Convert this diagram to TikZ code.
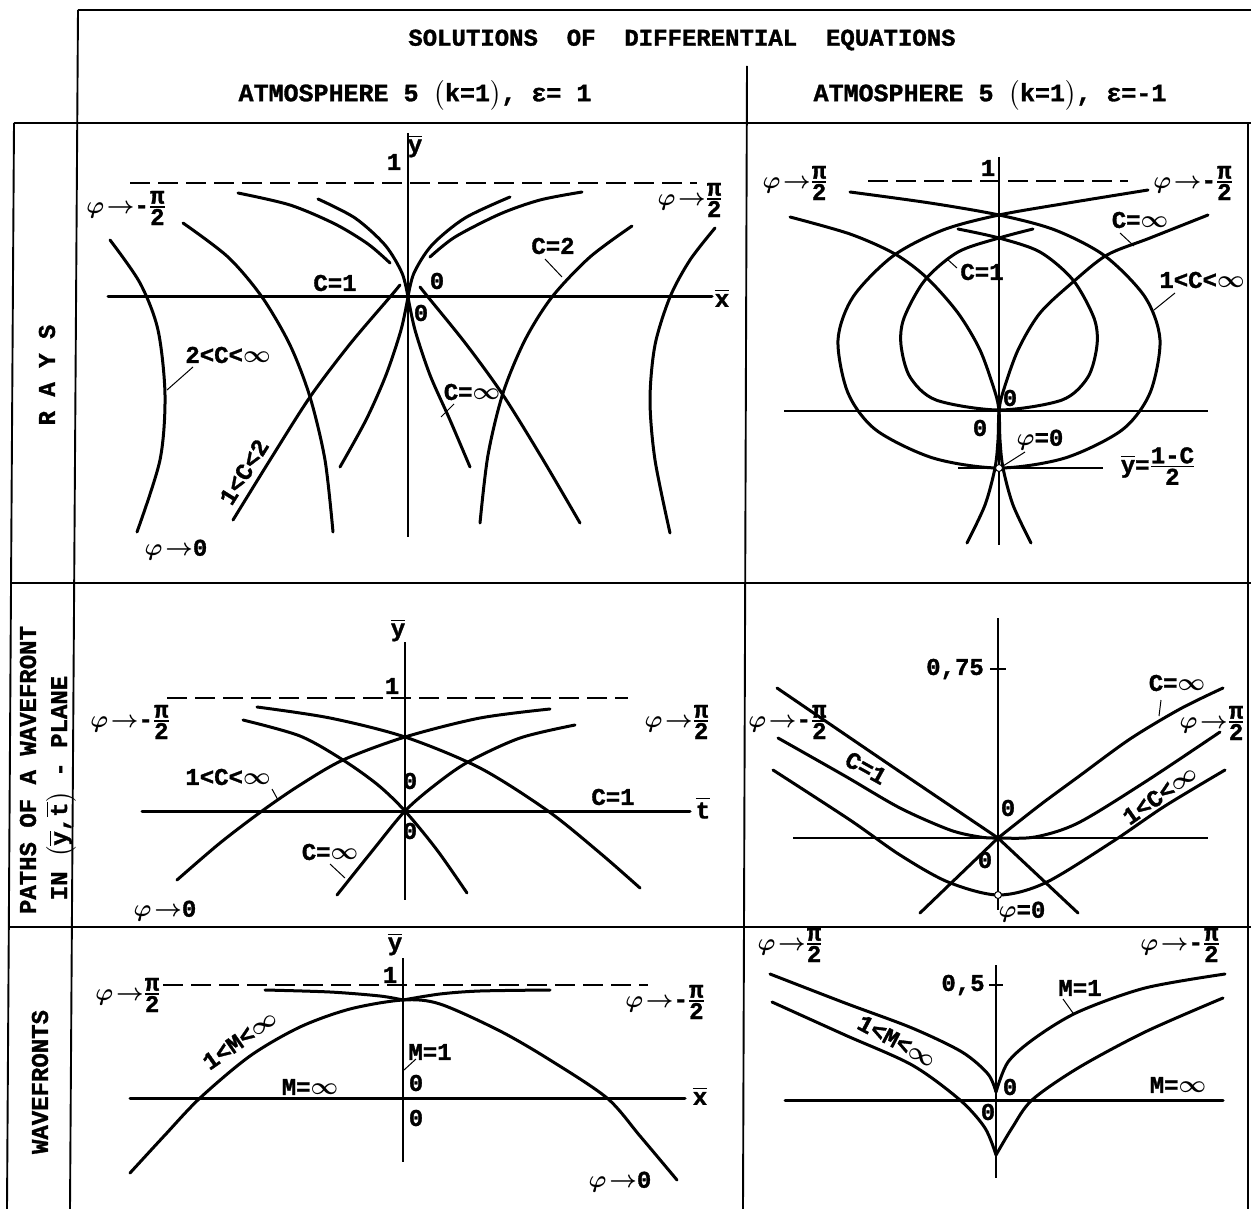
\RequirePackage{fix-cm}
\documentclass[tikz,border=0pt]{standalone}
\usepackage{amsmath}
\usepackage{fontspec}
\setmainfont{Liberation Mono}[BoldFont={Liberation Mono Bold}, BoldFeatures={FakeBold=1.3}]
\newcommand\fr[2]{\ensuremath{\genfrac{}{}{1.3pt}{}{\hbox{#1}}{\hbox{#2}}}}
\newcommand\ob[1]{\ensuremath{\overline{\hbox{#1}}}}
\newcommand\phto{\ensuremath{\boldsymbol{\varphi}\mkern-3mu\boldsymbol{\rightarrow}}}
\newcommand\phv{\ensuremath{\boldsymbol{\varphi}}}
\newcommand\infy{\ensuremath{\boldsymbol{\infty}}}
\tikzset{
 thk/.style={line width=3pt, line cap=round, line join=round},
 ax/.style={line width=1.2pt},
 frm/.style={line width=1.9pt},
 dsh/.style={line width=1.2pt, dash pattern=on 20pt off 8pt},
 lbl/.style={font=\fontsize{24}{26}\selectfont\bfseries, inner sep=0pt},
 ldr/.style={line width=1pt},
 crc/.style={line width=1pt, fill=white},
}
\begin{document}
\begin{tikzpicture}[x=1pt,y=-1pt]
\useasboundingbox (0,0) rectangle (1251,1209);
\fill[white] (0,0) rectangle (1251,1209);
% ---------- frame ----------
\draw[frm] (78,10) -- (1251,10);
\draw[frm] (78,10) -- (70,1209);
\draw[frm] (14,123) -- (1251,123);
\draw[frm] (14,123) -- (7,1209);
\draw[frm] (747,66) -- (743,1209);
\draw[frm] (1248,123) -- (1248,1209);
\draw[frm] (10,583) -- (1251,583);
\draw[frm] (8,927) -- (1251,927);
% ---------- header ----------
\node[lbl] (title) at (682,40) {SOLUTIONS\ \ OF\ \ DIFFERENTIAL\ \ EQUATIONS};
\node[lbl,font=\fontsize{25}{27}\selectfont\bfseries] (sub1) at (415,95) {ATMOSPHERE 5 $\big($k=1$\big)$, ε= 1};
\node[lbl,font=\fontsize{25}{27}\selectfont\bfseries] (sub2) at (990,95) {ATMOSPHERE 5 $\big($k=1$\big)$, ε=-1};
% ---------- row labels ----------
\node[lbl,rotate=90] (rays) at (47,375) {R A Y S};
\node[lbl,rotate=90] (paths1) at (28,770) {PATHS OF A WAVEFRONT};
\node[lbl,rotate=90] (paths2) at (61,788) {IN $\big($\ob{y},\ob{t}$\big)$ - PLANE};
\node[lbl,rotate=90] (wfr) at (40,1082) {WAVEFRONTS};
% ================= panel 1 : rays, eps=1 =================
\draw[ax] (408,133) -- (408,537);
\draw[dsh] (130,183) -- (697,183);
\draw[thk] (108,297) -- (712,297);
\draw[thk] plot[smooth] coordinates {(110,240) (140,283) (158,330) (165,395) (160,460) (137,532)};
\draw[thk] plot[smooth] coordinates {(715,228) (690,260) (670,297) (655,345) (650,400) (655,460) (670,533)};
\draw[thk] plot[smooth] coordinates {(183,223) (228,257) (262,297) (290,345) (310,397) (325,460) (333,532)};
\draw[thk] plot[smooth] coordinates {(632,226) (590,257) (552,297) (525,340) (503,393) (488,455) (480,523)};
\draw[thk] plot[smooth] coordinates {(233,520) (270,460) (310,397) (350,344) (390,297) (400,285)};
\draw[thk] plot[smooth] coordinates {(420,287) (428,297) (466,344) (503,395) (542,458) (580,523)};
\draw[thk] plot[smooth] coordinates {(408,297) (401,330) (386,375) (366,420) (340,467)};
\draw[thk] plot[smooth] coordinates {(408,297) (415,330) (430,375) (450,420) (470,467)};
\draw[thk] plot[smooth] coordinates {(318,199) (355,218) (385,245) (402,273) (408,297)};
\draw[thk] plot[smooth] coordinates {(408,297) (414,273) (432,245) (465,218) (510,197)};
\draw[thk] plot[smooth] coordinates {(238,193) (290,205) (335,224) (368,244) (390,263)};
\draw[thk] plot[smooth] coordinates {(430,257) (455,237) (500,214) (540,200) (582,192)};
\node[lbl] (p1y) at (415,146) {\ob{y}};
\node[lbl] (p1one) at (394,162) {1};
\node[lbl] (p1o1) at (437,281) {0};
\node[lbl] (p1o2) at (421,313) {0};
\node[lbl] (p1x) at (722,298) {\ob{x}};
\node[lbl] (p1c1) at (335,283) {C=1};
\node[lbl] (p1c2) at (553,246) {C=2};
\node[lbl] (p1cinf) at (472,392) {C=\infy};
\node[lbl] (p1c2inf) at (228,355) {2<C<\infy};
\node[lbl,rotate=58] (p1c12) at (244,472) {1<C<2};
\node[lbl] (p1phl) at (126,208) {\phto-\fr{π}{2}};
\node[lbl] (p1phr) at (690,200) {\phto\fr{π}{2}};
\node[lbl] (p1ph0) at (176,550) {\phto0};
\draw[ldr] (545,259) -- (562,277);
\draw[ldr] (454,404) -- (441,417);
\draw[ldr] (193,367) -- (167,390);
% ================= panel 2 : rays, eps=-1 =================
\draw[ax] (999,157) -- (999,545);
\draw[ax] (784,411) -- (1208,411);
\draw[dsh] (868,181) -- (1128,181);
\draw[ax] (958,468) -- (1103,468);
\draw[thk] plot[smooth] coordinates {(850,192) (930,203) (999,215) (1055,230) (1105,256) (1145,297) (1160,340) (1150,393) (1122,430) (1065,458) (999,468) (933,458) (876,430) (848,393) (838,340) (853,297) (893,256) (943,230) (999,215) (1068,203) (1148,190)};
\draw[thk] plot[smooth] coordinates {(958,229) (999,238) (1040,252) (1073,280) (1094,318) (1097,345) (1088,377) (1062,400) (999,410) (936,400) (910,377) (901,345) (904,318) (925,280) (958,252) (999,238) (1033,229)};
\draw[thk] plot[smooth] coordinates {(790,217) (850,234) (895,254) (927,278) (958,313) (980,350) (995,392) (999,411) (1000,440) (1003,468) (1013,505) (1031,543)};
\draw[thk] plot[smooth] coordinates {(1208,215) (1150,238) (1107,255) (1073,282) (1040,313) (1018,350) (1003,392) (999,411) (998,440) (995,468) (985,505) (967,543)};
\draw[crc] (999,468) circle (3.5);
\node[lbl] (p2one) at (988,168) {1};
\node[lbl] (p2o1) at (980,428) {0};
\node[lbl] (p2o2) at (1010,398) {0};
\node[lbl] (p2ph0) at (1040,440) {\phv=0};
\draw[ldr] (1025,452) -- (1003,466);
\node[lbl] (p2ybar) at (1158,466) {\ob{y}=\fr{1-C}{2}};
\node[lbl] (p2phl) at (795,183) {\phto\fr{π}{2}};
\node[lbl] (p2phr) at (1193,183) {\phto-\fr{π}{2}};
\node[lbl] (p2cinf) at (1140,220) {C=\infy};
\draw[ldr] (1120,233) -- (1134,246);
\node[lbl] (p2c1) at (982,272) {C=1};
\draw[ldr] (947,259) -- (957,268);
\node[lbl] (p2c1inf) at (1202,280) {1<C<\infy};
\draw[ldr] (1175,293) -- (1154,310);
% ================= panel 3 : paths, eps=1 =================
\draw[ax] (405,642) -- (405,900);
\draw[dsh] (167,698) -- (628,698);
\draw[thk] (142,811) -- (690,811);
\draw[thk] plot[smooth] coordinates {(257,707) (330,718) (405,737) (480,768) (548,811) (600,853) (640,888)};
\draw[thk] plot[smooth] coordinates {(177,880) (220,843) (262,811) (300,785) (343,760) (405,737) (480,718) (550,709)};
\draw[thk] plot[smooth] coordinates {(243,720) (300,736) (343,760) (378,785) (405,811) (437,850) (467,893)};
\draw[thk] plot[smooth] coordinates {(337,895) (373,850) (405,811) (435,785) (468,762) (520,738) (575,725)};
\node[lbl] (p3y) at (398,630) {\ob{y}};
\node[lbl] (p3one) at (392,686) {1};
\node[lbl] (p3o1) at (410,781) {0};
\node[lbl] (p3o2) at (410,831) {0};
\node[lbl] (p3t) at (703,808) {\ob{t}};
\node[lbl] (p3c1) at (613,797) {C=1};
\node[lbl] (p3c1inf) at (228,777) {1<C<\infy};
\draw[ldr] (272,789) -- (278,800);
\node[lbl] (p3cinf) at (330,852) {C=\infy};
\draw[ldr] (330,864) -- (345,878);
\node[lbl] (p3phl) at (130,722) {\phto-\fr{π}{2}};
\node[lbl] (p3phr) at (677,722) {\phto\fr{π}{2}};
\node[lbl] (p3ph0) at (165,911) {\phto0};
% ================= panel 4 : paths, eps=-1 =================
\draw[ax] (998,618) -- (998,910);
\draw[ax] (990,669) -- (1006,669);
\draw[ax] (793,838) -- (1208,838);
\draw[thk] plot[smooth] coordinates {(777,688) (887,763) (998,838)};
\draw[thk] (998,838) -- (1078,913);
\draw[thk] (920,913) -- (998,838);
\draw[thk] plot[smooth] coordinates {(998,838) (1040,805) (1078,777) (1130,739) (1180,709) (1223,688)};
\draw[thk] plot[smooth] coordinates {(778,738) (845,776) (900,808) (950,830) (980,837) (998,838) (1035,837) (1078,823) (1145,782) (1220,732)};
\draw[thk] plot[smooth] coordinates {(773,770) (850,820) (900,855) (948,882) (998,895) (1045,883) (1112,842) (1165,806) (1225,770)};
\draw[crc] (998,895) circle (3.5);
\node[lbl] (p4tick) at (955,669) {0,75};
\node[lbl] (p4o1) at (1008,808) {0};
\node[lbl] (p4o2) at (985,860) {0};
\node[lbl] (p4ph0) at (1022,912) {\phv=0};
\node[lbl] (p4cinf) at (1177,683) {C=\infy};
\draw[ldr] (1161,700) -- (1159,716);
\node[lbl] (p4phr) at (1212,723) {\phto\fr{π}{2}};
\node[lbl] (p4phl) at (788,722) {\phto-\fr{π}{2}};
\node[lbl,rotate=-29] (p4c1) at (866,768) {C=1};
\node[lbl,rotate=35] (p4c1inf) at (1160,795) {1<C<\infy};
% ================= panel 5 : wavefronts, eps=1 =================
\draw[line width=1.7pt] (403,958) -- (403,1162);
\draw[dsh] (163,985) -- (648,985);
\draw[thk] (130,1098) -- (685,1098);
\draw[thk] plot[smooth] coordinates {(265,990) (330,992) (380,996) (403,1000)};
\draw[thk] plot[smooth] coordinates {(403,1000) (440,994) (480,991) (550,990)};
\draw[thk] plot[smooth] coordinates {(130,1173) (165,1135) (200,1098) (250,1056) (300,1027) (350,1009) (403,1000) (440,1004) (500,1031) (550,1060) (607,1098) (640,1136) (677,1180)};
\node[lbl] (p5y) at (395,944) {\ob{y}};
\node[lbl] (p5one) at (390,975) {1};
\node[lbl] (p5o1) at (416,1083) {0};
\node[lbl] (p5o2) at (416,1118) {0};
\node[lbl] (p5x) at (700,1096) {\ob{x}};
\node[lbl] (p5minf) at (310,1087) {M=\infy};
\node[lbl] (p5m1) at (430,1052) {M=1};
\draw[ldr] (404,1070) -- (416,1059);
\node[lbl,rotate=35] (p5m1inf) at (240,1040) {1<M<\infy};
\node[lbl] (p5phl) at (128,995) {\phto\fr{π}{2}};
\node[lbl] (p5phr) at (665,1002) {\phto-\fr{π}{2}};
\node[lbl] (p5ph0) at (620,1182) {\phto0};
% ================= panel 6 : wavefronts, eps=-1 =================
\draw[ax] (996,965) -- (996,1178);
\draw[ax] (989,985) -- (1003,985);
\draw[thk] (785,1100) -- (1223,1100);
\draw[thk] plot[smooth] coordinates {(770,974) (845,1003) (912,1028) (962,1052) (988,1074) (996,1092)};
\draw[thk] plot[smooth] coordinates {(996,1092) (1008,1062) (1035,1038) (1078,1012) (1145,988) (1225,974)};
\draw[thk] plot[smooth] coordinates {(772,1002) (845,1035) (912,1065) (960,1100) (985,1128) (996,1155)};
\draw[thk] plot[smooth] coordinates {(996,1155) (1012,1128) (1032,1100) (1078,1068) (1145,1032) (1223,998)};
\node[lbl] (p6tick) at (963,985) {0,5};
\node[lbl] (p6o1) at (1010,1087) {0};
\node[lbl] (p6o2) at (988,1112) {0};
\node[lbl] (p6minf) at (1178,1085) {M=\infy};
\node[lbl] (p6m1) at (1080,988) {M=1};
\draw[ldr] (1063,999) -- (1073,1013);
\node[lbl] (p6phl) at (790,945) {\phto\fr{π}{2}};
\node[lbl] (p6phr) at (1180,945) {\phto-\fr{π}{2}};
\node[lbl,rotate=-28] (p6m1inf) at (897,1041) {1<M<\infy};
\end{tikzpicture}
\end{document}
